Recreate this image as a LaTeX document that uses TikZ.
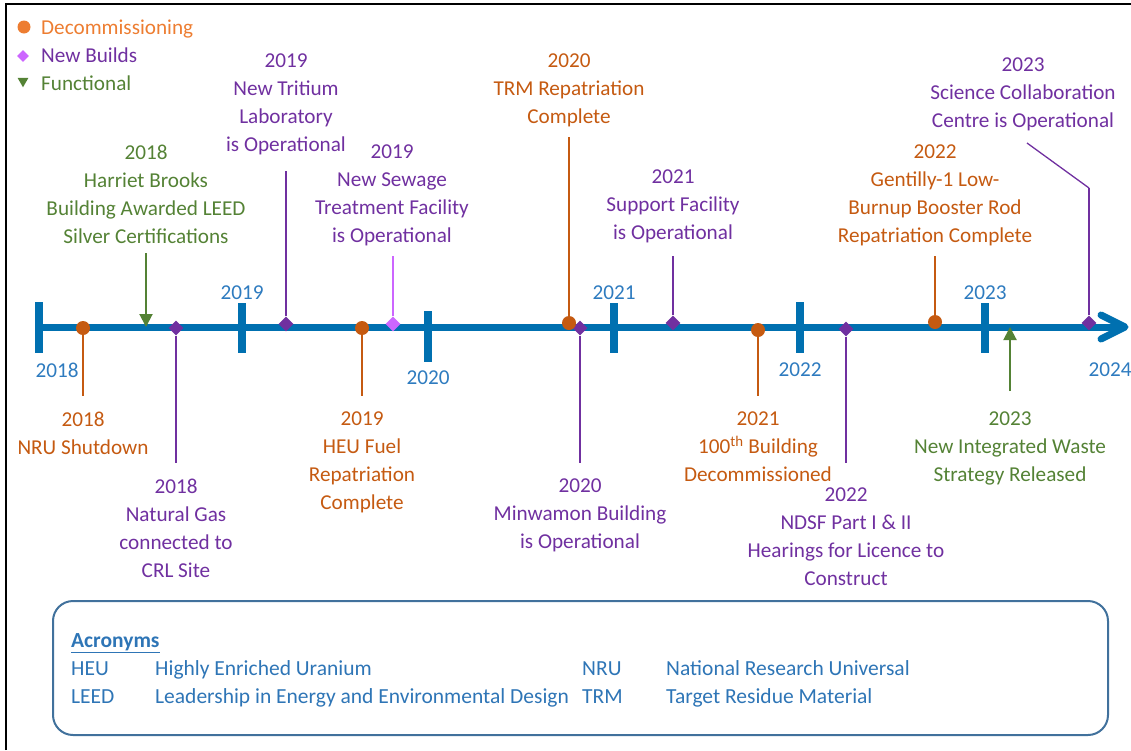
\documentclass[tikz,border=0pt]{standalone}
\usepackage{fontspec}
\setmainfont{Carlito}
\usetikzlibrary{shapes.geometric,arrows.meta,positioning}

\definecolor{axisblue}{HTML}{0070B0}
\definecolor{yearblue}{HTML}{2E7BBF}
\definecolor{decomorange}{HTML}{C55A11}
\definecolor{legorange}{HTML}{ED7D31}
\definecolor{buildpurple}{HTML}{7030A0}
\definecolor{buildviolet}{HTML}{CC66FF}
\definecolor{funcgreen}{HTML}{548235}
\definecolor{boxblue}{HTML}{41719C}
\definecolor{acroblue}{HTML}{2E75B6}

\tikzset{
  decom/.style={circle,fill=decomorange,inner sep=0pt,minimum size=14pt},
  newbuild/.style={diamond,fill=buildpurple,inner sep=0pt,minimum size=15pt},
  stem/.style={line width=2pt},
  evtext/.style={align=center,anchor=north,inner sep=0pt},
  yearlabel/.style={text=yearblue,inner sep=0pt},
  acro/.style={text=acroblue,anchor=base west,inner sep=0pt,font=\fontsize{21.5}{28}\selectfont},
  tick/.style={axisblue,line width=8pt}
}

\begin{document}
\begin{tikzpicture}[x=1pt,y=-1pt,font=\fontsize{21.2}{28}\selectfont]
	\useasboundingbox (0,0) rectangle (1131,750);
	\draw[line width=1.5pt] (6,750) -- (6,4) -- (1131,4);

	% legend
	\node[decom,fill=legorange,minimum size=13pt] (legdot) at (24,27) {};
	\node[diamond,fill=buildviolet,inner sep=0pt,minimum size=12pt] (legdia) at (23,56) {};
	\node[regular polygon,regular polygon sides=3,shape border rotate=180,fill=funcgreen,inner sep=0pt,minimum size=12.5pt] (legtri) at (23,81) {};
	\node[anchor=base west,inner sep=0pt,text=legorange] (legdecom) at (41,34) {Decommissioning};
	\node[anchor=base west,inner sep=0pt,text=buildpurple] (legbuild) at (41,62) {New Builds};
	\node[anchor=base west,inner sep=0pt,text=funcgreen] (legfunc) at (41,90) {Functional};

	% time axis
	\draw[axisblue,line width=7pt] (39,327) -- (1122,327);
	\draw[axisblue,line width=7pt,line cap=round,line join=round] (1101,315) -- (1125,327) -- (1101,339);
	\draw[tick] (39,302) -- (39,353);
	\draw[tick] (242,303) -- (242,353);
	\draw[tick] (428,311) -- (428,362);
	\draw[tick] (614,303) -- (614,353);
	\draw[tick] (800,302) -- (800,353);
	\draw[tick] (985,303) -- (985,353);
	\node[yearlabel] (y2018) at (57,370) {2018};
	\node[yearlabel] (y2019) at (242,293) {2019};
	\node[yearlabel] (y2020) at (428,378) {2020};
	\node[yearlabel] (y2021) at (614,293) {2021};
	\node[yearlabel] (y2022) at (800,370) {2022};
	\node[yearlabel] (y2023) at (985,293) {2023};
	\node[yearlabel] (y2024) at (1110,370) {2024};

	% events below the axis
	\node[decom] (nru) at (83,328) {};
	\coordinate (nru-end) at (83,396);
	\draw[stem,decomorange] (nru) -- (nru-end);
	\node[evtext,text=decomorange] (nru-txt) at (83,412) {2018\\NRU Shutdown};

	\node[newbuild] (gas) at (176,328) {};
	\coordinate (gas-end) at (176,463);
	\draw[stem,buildpurple] (gas) -- (gas-end);
	\node[evtext,text=buildpurple] (gas-txt) at (176,479) {2018\\Natural Gas\\connected to\\CRL Site};

	\node[decom] (heu) at (362,328) {};
	\coordinate (heu-end) at (362,396);
	\draw[stem,decomorange] (heu) -- (heu-end);
	\node[evtext,text=decomorange] (heu-txt) at (362,412) {2019\\HEU Fuel\\Repatriation\\Complete};

	\node[newbuild] (minwamon) at (580,328) {};
	\coordinate (minwamon-end) at (580,463);
	\draw[stem,buildpurple] (minwamon) -- (minwamon-end);
	\node[evtext,text=buildpurple] (minwamon-txt) at (580,479) {2020\\Minwamon Building\\is Operational};

	\node[decom] (bldg) at (758,330) {};
	\coordinate (bldg-end) at (758,396);
	\draw[stem,decomorange] (bldg) -- (bldg-end);
	\node[evtext,text=decomorange] (bldg-txt) at (758,412) {2021\\100\textsuperscript{th} Building\\Decommissioned};

	\node[newbuild] (ndsf) at (846,329) {};
	\coordinate (ndsf-end) at (846,463);
	\draw[stem,buildpurple] (ndsf) -- (ndsf-end);
	\node[evtext,text=buildpurple] (ndsf-txt) at (846,488) {2022\\NDSF Part I \& II\\Hearings for Licence to\\Construct};

	\coordinate (waste) at (1010,327);
	\coordinate (waste-end) at (1010,391);
	\draw[stem,funcgreen,-{Triangle[length=13pt,width=13pt]}] (waste-end) -- (waste);
	\node[evtext,text=funcgreen] (waste-txt) at (1010,412) {2023\\New Integrated Waste\\Strategy Released};

	% events above the axis
	\coordinate (harriet) at (146,327);
	\coordinate (harriet-end) at (146,253);
	\draw[stem,funcgreen,-{Triangle[length=13pt,width=13pt]}] (harriet-end) -- (harriet);
	\node[evtext,text=funcgreen] (harriet-txt) at (146,145) {2018\\Harriet Brooks\\Building Awarded LEED\\Silver Certifications};

	\node[newbuild] (tritium) at (286,324) {};
	\coordinate (tritium-end) at (286,171);
	\draw[stem,buildpurple] (tritium) -- (tritium-end);
	\node[evtext,text=buildpurple] (tritium-txt) at (286,54) {2019\\New Tritium\\Laboratory\\is Operational};

	\node[newbuild,fill=buildviolet] (sewage) at (393,324) {};
	\coordinate (sewage-end) at (393,256);
	\draw[stem,buildviolet] (sewage) -- (sewage-end);
	\node[evtext,text=buildpurple] (sewage-txt) at (392,145) {2019\\New Sewage\\Treatment Facility\\is Operational};

	\node[decom] (trm) at (569,323) {};
	\coordinate (trm-end) at (569,137);
	\draw[stem,decomorange] (trm) -- (trm-end);
	\node[evtext,text=decomorange] (trm-txt) at (569,54) {2020\\TRM Repatriation\\Complete};

	\node[newbuild] (support) at (673,323) {};
	\coordinate (support-end) at (673,256);
	\draw[stem,buildpurple] (support) -- (support-end);
	\node[evtext,text=buildpurple] (support-txt) at (673,170) {2021\\Support Facility\\is Operational};

	\node[decom] (gentilly) at (935,322) {};
	\coordinate (gentilly-end) at (935,256);
	\draw[stem,decomorange] (gentilly) -- (gentilly-end);
	\node[evtext,text=decomorange] (gentilly-txt) at (935,145) {2022\\Gentilly-1 Low-\\Burnup Booster Rod\\Repatriation Complete};

	\node[newbuild] (science) at (1089,323) {};
	\coordinate (science-bend) at (1089,188);
	\coordinate (science-end) at (1027,143);
	\draw[stem,buildpurple] (science) -- (science-bend);
	\draw[buildpurple,line width=1.3pt] (science-bend) -- (science-end);
	\node[evtext,text=buildpurple] (science-txt) at (1023,58) {2023\\Science Collaboration\\Centre is Operational};

	% acronym box
	\draw[boxblue,line width=2pt,rounded corners=20pt] (53,601) rectangle (1108,735);
	\node[acro] (acro-head) at (71,647) {\underline{\textbf{Acronyms}}};
	\node[acro] (heu-key) at (71,675) {HEU};
	\node[acro] (heu-def) at (155,675) {Highly Enriched Uranium};
	\node[acro] (leed-key) at (71,703) {LEED};
	\node[acro] (leed-def) at (155,703) {Leadership in Energy and Environmental Design};
	\node[acro] (nru-key) at (582,675) {NRU};
	\node[acro] (nru-def) at (666,675) {National Research Universal};
	\node[acro] (trm-key) at (582,703) {TRM};
	\node[acro] (trm-def) at (666,703) {Target Residue Material};
\end{tikzpicture}
\end{document}
